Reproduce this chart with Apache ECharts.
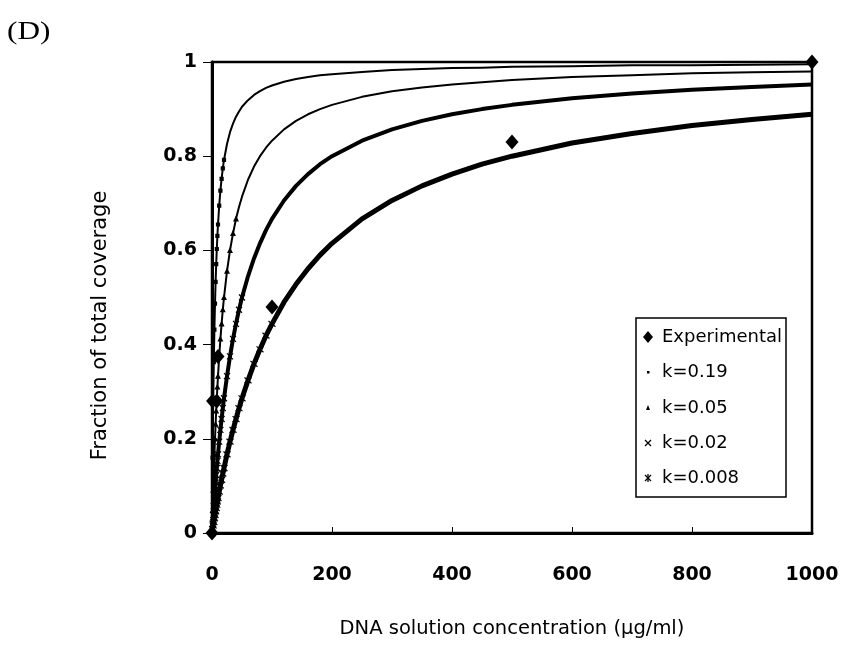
<!DOCTYPE html>
<html>
<head>
<meta charset="utf-8">
<script src="https://cdn.jsdelivr.net/npm/echarts@6/dist/echarts.min.js"></script>
<style>
html,body{margin:0;padding:0;background:#fff;}
#chart{width:844px;height:651px;}
</style>
</head>
<body>
<div id="chart"></div>
<script>
// DNA solution concentration (µg/ml) sample points
var conc = [0,1,2,3,4,5,6,7,8,9,10,12,14,16,18,20,25,30,35,40,45,50,60,70,80,90,100,120,140,160,180,200,250,300,350,400,450,500,600,700,800,900,1000];
// Fraction of total coverage
var k019 = [0,0.160,0.275,0.363,0.432,0.487,0.533,0.571,0.603,0.631,0.655,0.695,0.727,0.752,0.774,0.792,0.826,0.851,0.869,0.884,0.895,0.905,0.919,0.930,0.938,0.945,0.950,0.958,0.964,0.968,0.972,0.974,0.979,0.983,0.985,0.987,0.988,0.990,0.991,0.993,0.993,0.994,0.995];
var k005 = [0,0.048,0.091,0.130,0.167,0.200,0.231,0.259,0.286,0.310,0.333,0.375,0.412,0.444,0.474,0.500,0.556,0.600,0.636,0.667,0.692,0.714,0.750,0.778,0.800,0.818,0.833,0.857,0.875,0.889,0.900,0.909,0.926,0.938,0.946,0.952,0.957,0.962,0.968,0.972,0.976,0.978,0.980];
var k002 = [0,0.020,0.038,0.057,0.074,0.091,0.107,0.123,0.138,0.153,0.167,0.194,0.219,0.242,0.265,0.286,0.333,0.375,0.412,0.444,0.474,0.500,0.545,0.583,0.615,0.643,0.667,0.706,0.737,0.762,0.783,0.800,0.833,0.857,0.875,0.889,0.900,0.909,0.923,0.933,0.941,0.947,0.952];
var k0008 = [0,0.008,0.016,0.023,0.031,0.038,0.046,0.053,0.060,0.067,0.074,0.088,0.101,0.113,0.126,0.138,0.167,0.194,0.219,0.242,0.265,0.286,0.324,0.359,0.390,0.419,0.444,0.490,0.528,0.561,0.590,0.615,0.667,0.706,0.737,0.762,0.783,0.800,0.828,0.848,0.865,0.878,0.889];
// Experimental points
var expX = [0,1,8,10,100,500,1000];
var expY = [0,0.28,0.28,0.375,0.48,0.83,1.0];
var seriesNames = ['Experimental','k=0.19','k=0.05','k=0.02','k=0.008'];

function pairs(xs, ys){ return xs.map(function(x,i){ return [x, ys[i]]; }); }
// show markers only on the steep part where they are visible separately
function markedPairs(xs, ys, maxC){
  return xs.map(function(x,i){
    return x <= maxC ? {value:[x, ys[i]]} : {value:[x, ys[i]], symbol:'none'};
  });
}

var X_PATH = 'path://M0,0L10,10M10,0L0,10';
var STAR_PATH = 'path://M0,0L10,10M10,0L0,10M5,-1L5,11';

var chart = echarts.init(document.getElementById('chart'), null, {renderer:'canvas'});

function lineSeries(name, ys, lw, symbol, size, maxC, z){
  return {
    name: name, type: 'line', data: markedPairs(conc, ys, maxC),
    smooth: false,
    showSymbol: true, showAllSymbol: true,
    symbol: symbol, symbolSize: size,
    lineStyle: {color:'#000', width: lw, join: 'round'},
    itemStyle: {color:'#000', borderColor:'#000', borderWidth: 1.2},
    emphasis: {disabled: true},
    z: z
  };
}

var lx = 648, tx = 662, ly = [337,372,408,443,478];
var SANS = '"DejaVu Sans", Verdana, sans-serif';
var font = '18px ' + SANS;

chart.setOption({
  animation: false,
  backgroundColor: '#fff',
  grid: {left: 212, right: 32, top: 62, bottom: 118, show: true, borderColor: '#000', borderWidth: 2.5, backgroundColor: 'transparent'},
  xAxis: {
    type: 'value', min: 0, max: 1000, interval: 200,
    name: 'DNA solution concentration (\u00b5g/ml)',
    nameLocation: 'middle', nameGap: 86,
    nameTextStyle: {fontFamily: SANS, fontSize: 19.5, color: '#000'},
    axisLine: {lineStyle: {color: '#000', width: 3}},
    axisTick: {inside: true, length: 6, lineStyle: {color: '#000', width: 1}},
    axisLabel: {margin: 33, fontFamily: SANS, fontWeight: 'bold', fontSize: 19, color: '#000',
      formatter: function(v){ return String(v); }},
    splitLine: {show: false}
  },
  yAxis: {
    type: 'value', min: 0, max: 1, interval: 0.2,
    name: 'Fraction of total coverage',
    nameLocation: 'middle', nameGap: 101,
    nameTextStyle: {fontFamily: SANS, fontSize: 21, color: '#000', padding: [0, 56, 0, 0]},
    axisLine: {lineStyle: {color: '#000', width: 3}},
    axisTick: {inside: false, length: 9, lineStyle: {color: '#000', width: 1}},
    axisLabel: {margin: 15, fontFamily: SANS, fontWeight: 'bold', fontSize: 19, color: '#000',
      formatter: function(v){ return String(v); }},
    splitLine: {show: false}
  },
  series: [
    lineSeries('k=0.19', k019, 2, 'rect', 3, 20, 2),
    lineSeries('k=0.05', k005, 2, 'triangle', 4, 40, 2),
    lineSeries('k=0.02', k002, 4, X_PATH, 6, 50, 3),
    lineSeries('k=0.008', k0008, 5, STAR_PATH, 7, 100, 4),
    {
      name: 'Experimental', type: 'scatter', data: pairs(expX, expY),
      symbol: 'diamond', symbolSize: [13, 15],
      itemStyle: {color: '#000', opacity: 1}, z: 10, clip: false
    }
  ],
  graphic: [
    {type:'text', left: 7, top: 20, scaleX: 1.25, style:{text:'(D)', font:'25px "Liberation Serif", "Times New Roman", serif', fill:'#000'}},
    {type:'rect', shape:{x:636, y:318, width:150, height:179}, style:{fill:'#fff', stroke:'#000', lineWidth:1.5}, z: 20},
    {type:'polygon', shape:{points:[[lx,ly[0]-6],[lx+5,ly[0]],[lx,ly[0]+6],[lx-5,ly[0]]]}, style:{fill:'#000'}, z:21},
    {type:'rect', shape:{x:lx-1, y:ly[1]-1, width:2.5, height:2.5}, style:{fill:'#000'}, z:21},
    {type:'polygon', shape:{points:[[lx,ly[2]-3],[lx+2,ly[2]+2],[lx-2,ly[2]+2]]}, style:{fill:'#000'}, z:21},
    {type:'polyline', shape:{points:[[lx-3,ly[3]-3],[lx+3,ly[3]+3]]}, style:{stroke:'#000', lineWidth:1.3}, z:21},
    {type:'polyline', shape:{points:[[lx+3,ly[3]-3],[lx-3,ly[3]+3]]}, style:{stroke:'#000', lineWidth:1.3}, z:21},
    {type:'polyline', shape:{points:[[lx-3,ly[4]-3],[lx+3,ly[4]+3]]}, style:{stroke:'#000', lineWidth:1.3}, z:21},
    {type:'polyline', shape:{points:[[lx+3,ly[4]-3],[lx-3,ly[4]+3]]}, style:{stroke:'#000', lineWidth:1.3}, z:21},
    {type:'polyline', shape:{points:[[lx,ly[4]-4],[lx,ly[4]+4]]}, style:{stroke:'#000', lineWidth:1.3}, z:21},
    {type:'text', x:tx, y:ly[0], style:{text:seriesNames[0], font:font, fill:'#000', verticalAlign:'middle'}, z:21},
    {type:'text', x:tx, y:ly[1], style:{text:seriesNames[1], font:font, fill:'#000', verticalAlign:'middle'}, z:21},
    {type:'text', x:tx, y:ly[2], style:{text:seriesNames[2], font:font, fill:'#000', verticalAlign:'middle'}, z:21},
    {type:'text', x:tx, y:ly[3], style:{text:seriesNames[3], font:font, fill:'#000', verticalAlign:'middle'}, z:21},
    {type:'text', x:tx, y:ly[4], style:{text:seriesNames[4], font:font, fill:'#000', verticalAlign:'middle'}, z:21}
  ]
});
</script>
</body>
</html>
